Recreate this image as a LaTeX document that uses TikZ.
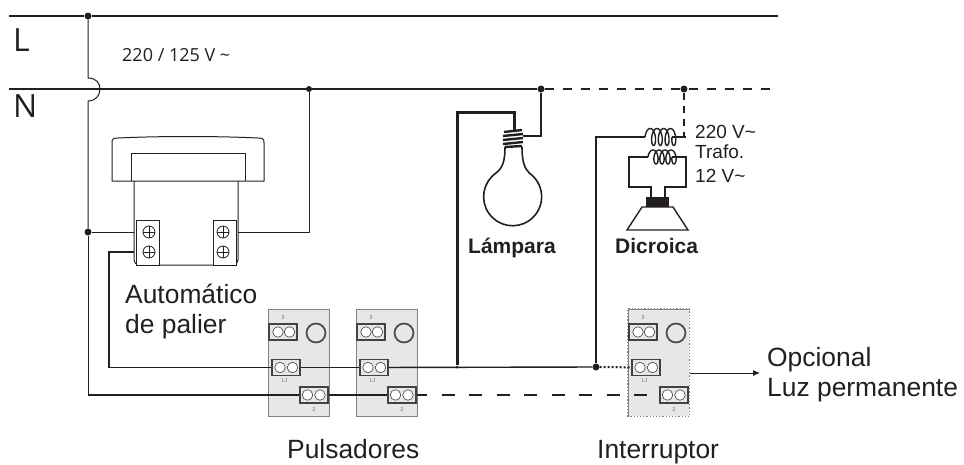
\documentclass[tikz,border=0pt]{standalone}
\usepackage{fontspec}
\setmainfont{Liberation Sans}
\newfontfamily\opensans{Open Sans}
\usetikzlibrary{arrows.meta}
\definecolor{pInk}{HTML}{231F20}
\definecolor{pPanel}{HTML}{E6E7E8}
\definecolor{pEdge}{HTML}{808285}
\tikzset{
    wire/.style={line width=1pt, pInk},
    fatwire/.style={line width=2.2pt, pInk},
    body/.style={line width=1pt, pInk},
    junction/.style={circle, fill=pInk, inner sep=0pt, minimum size=7pt},
    panel/.style={draw=pEdge, line width=1pt, fill=pPanel, inner sep=0pt, minimum width=61pt, minimum height=107pt},
    clamp/.style={draw=pInk!85, line width=1.6pt, fill=pPanel, inner sep=0pt, minimum width=28pt, minimum height=16pt},
    hole/.style={circle, draw=pInk!85, line width=.6pt, fill=white, inner sep=0pt, minimum size=10.5pt},
    ring/.style={circle, draw=pInk!80, line width=1.8pt, inner sep=0pt, minimum size=19pt},
    tiny/.style={font=\opensans\fontsize{5.5}{6}\selectfont, pInk!70, inner sep=0pt},
    screw/.style={circle, draw=pInk, line width=.8pt, fill=white, inner sep=0pt, minimum size=12pt,
        path picture={\draw[line width=.8pt,pInk] (path picture bounding box.north)--(path picture bounding box.south)
        (path picture bounding box.west)--(path picture bounding box.east);}},
    block/.style={draw=pInk, line width=1pt, fill=white, inner sep=0pt, minimum width=23pt, minimum height=45pt},
    big/.style={font=\fontsize{26.4}{28}\selectfont, anchor=base west, inner sep=0pt, pInk},
    mid/.style={font=\fontsize{21}{23}\selectfont\bfseries, anchor=base west, inner sep=0pt, pInk},
    volt/.style={font=\fontsize{19}{21}\selectfont, anchor=base west, inner sep=0pt, pInk},
    rail/.style={font=\opensans\fontsize{32}{34}\selectfont, anchor=base west, inner sep=0pt, pInk}
}

\begin{document}
\begin{tikzpicture}[x=1pt,y=-1pt]
\useasboundingbox (0,0) rectangle (964,464);
% bus bars
\coordinate (lineW) at (9,16);
\coordinate (lineE) at (778,16);
\coordinate (neutW) at (9,89);
\coordinate (neutE) at (778,89);
\node[junction] (dotL) at (88,16) {};
\node[junction,minimum size=6pt] (dotPal) at (309,89) {};
\node[junction] (dotLamp) at (541,89) {};
\node[junction] (dotTrafo) at (684,89) {};
\node[junction] (dotAuto) at (88,232) {};
\node[junction] (dotRet) at (596,367) {};
\draw[fatwire] (lineW)--(dotL)--(lineE);
\draw[wire,line width=1.8pt] (neutW)--(dotLamp);
\draw[wire,line width=1.8pt,dash pattern=on 9pt off 9pt] (dotLamp)--(neutE);
\node[rail] (txtL) at (13,51) {L};
\node[rail] (txtN) at (13,117) {N};
\node[font=\opensans\fontsize{18}{20}\selectfont,anchor=base west,inner sep=0pt,pInk] (txtV) at (122,61) {220 / 125 V \textasciitilde};
% hop over the neutral
\coordinate (hopA) at (88,78);
\coordinate (hopB) at (88,101);
\draw[wire] (dotL)--(hopA) .. controls (96,78) and (100,83) .. (100,89) .. controls (100,95) and (96,101) .. (hopB)--(dotAuto);
% automatico
\draw[body] (112,181)--(112,143) .. controls (112,139) and (113,138) .. (118,138) .. controls (160,136) and (216,136) .. (258,138) .. controls (263,138) and (264,139) .. (264,143)--(264,181)--cycle;
\draw[body] (131,181)--(131,153)--(245,153)--(245,181);
\draw[body] (134,181)--(134,260) arc[start angle=180,end angle=270,radius=5pt] --(233,265) arc[start angle=270,end angle=360,radius=5pt] --(238,181);
\node[block] (autoA) at (147.5,242.5) {};
\node[block] (autoB) at (224.5,242.5) {};
\node[screw] at (149,232) {};
\node[screw] at (149,252) {};
\node[screw] at (223,232) {};
\node[screw] at (223,252) {};
\coordinate (autoInA) at (134,232);
\coordinate (autoInB) at (134,252);
\coordinate (autoOut) at (238,232);
\draw[wire] (dotAuto)--(autoInA);
\draw[wire] (autoOut)-|(dotPal);
\node[big] (txtAuto) at (125,303) {Automático};
\node[big] (txtPal) at (125,333) {de palier};
% panels
\foreach \px/\nm in {0/pulA,88/pulB,360/intC}{
    \node[panel] (\nm) at (298.5+\px,362.5) {};
    \node[clamp] (\nm3) at (283+\px,332) {};
    \node[clamp] (\nm1) at (286+\px,367.5) {};
    \node[clamp] (\nm2) at (314+\px,395) {};
    \node[hole] at (278+\px,332) {};
    \node[hole] at (289.5+\px,332) {};
    \node[hole] at (280+\px,367.5) {};
    \node[hole] at (292.5+\px,367.5) {};
    \node[hole] at (307.5+\px,395) {};
    \node[hole] at (320+\px,395) {};
    \node[ring] at (316+\px,333) {};
    \node[tiny] at (283+\px,318) {3};
    \node[tiny] at (285+\px,380.5) {L1};
    \node[tiny] at (314+\px,409.5) {2};
}
\draw[draw=white,line width=1.2pt] (intC.south west) rectangle (intC.north east);
\draw[draw=pEdge,line width=1.2pt,dotted] (intC.south west) rectangle (intC.north east);
% wiring to the push buttons
\coordinate (retBend) at (109,252);
\coordinate (lowBend) at (88,395);
\draw[wire,line width=1.4pt] (autoInB)--(retBend)|-(pulA1);
\draw[wire,line width=1.4pt] (pulA1)--(pulB1);
\draw[wire,line width=1.4pt] (pulB1)--(dotRet);
\draw[wire,line width=2pt,dotted] (dotRet)--(intC1);
\draw[wire] (dotAuto)--(lowBend);
\draw[fatwire] (lowBend)--(pulA2);
\draw[fatwire] (pulA2)--(pulB2);
\coordinate (dashFrom) at (427,395);
\draw[fatwire] (pulB2)--(dashFrom);
\draw[wire,line width=1.8pt,dash pattern=on 13pt off 14.5pt,dash phase=13pt] (dashFrom)--(intC2);
\coordinate (arrowEnd) at (760,373);
\draw[wire,-{Latex[length=7pt,width=6pt]}] (intC.east|-arrowEnd)--(arrowEnd);
\node[big] (txtOpc) at (767,366) {Opcional};
\node[big] (txtLuz) at (767,396) {Luz permanente};
\node[big] (txtPul) at (287,458) {Pulsadores};
\node[big] (txtInt) at (597,458) {Interruptor};
% lamp
\coordinate (lampCap) at (514,130);
\coordinate (lampTap) at (523,136);
\coordinate (lampBend) at (457,112);
\node[junction,minimum size=3pt] (dotBend) at (457,367) {};
\draw[fatwire,line width=3pt] (dotBend)--(lampBend)-|(lampCap);
\draw[wire,line width=1.6pt] (lampTap)-|(dotLamp);
\draw[body,line width=1.6pt] (505,147) .. controls (505,160) and (503,168) .. (496,173)
    arc[start angle=125,end angle=415,radius=29pt] .. controls (524,168) and (522,160) .. (522,147);
\draw[line width=2.4pt,pInk] (504,132)--(522,130) (503,136)--(523,134) (503,140)--(523,138) (503,144)--(523,142) (505,147)--(522,146);
\node[mid] (txtLamp) at (468,253) {Lámpara};
% trafo
\coordinate (priW) at (645,137);
\coordinate (priE) at (672,137);
\coordinate (secW) at (648,157);
\coordinate (secE) at (672,157);
\coordinate (tapE) at (686,137);
\coordinate (secBL) at (629,187);
\coordinate (secBR) at (686,187);
\coordinate (lensA) at (651,197);
\coordinate (lensB) at (665,197);
\draw[wire,line width=1.5pt] (dotRet)|-(priW);
\draw[wire,line width=1.5pt] (priE)--(tapE);
\draw[wire,line width=1.5pt,dash pattern=on 7pt off 6pt] (dotTrafo)--(684,137);
\draw[wire,line width=1.4pt] plot[variable=\t,domain=-90:1350,samples=160] ({645+0.01875*(\t+90)+3.5*(sin(\t)+1)},{137-8.5*cos(\t)});
\draw[wire,line width=1.4pt] plot[variable=\t,domain=-90:1350,samples=160] ({648+0.01667*(\t+90)+3.5*(sin(\t)+1)},{157-7*cos(\t)});
\draw[wire,line width=1.5pt] (secW)-|(secBL)-|(lensA);
\draw[wire,line width=1.5pt] (secE)-|(secBR)-|(lensB);
\node[fill=pInk,inner sep=0pt,minimum width=23pt,minimum height=10pt] (lens) at (657.5,202) {};
\draw[body,line width=1.4pt] (642,207)--(673,207)--(688,230)--(627,230)--cycle;
\node[volt] (txtPri) at (695,138) {220 V\textasciitilde};
\node[volt] (txtTra) at (695,158) {Trafo.};
\node[volt] (txtSec) at (695,182) {12 V\textasciitilde};
\node[mid] (txtDic) at (615,253) {Dicroica};
\end{tikzpicture}
\end{document}
